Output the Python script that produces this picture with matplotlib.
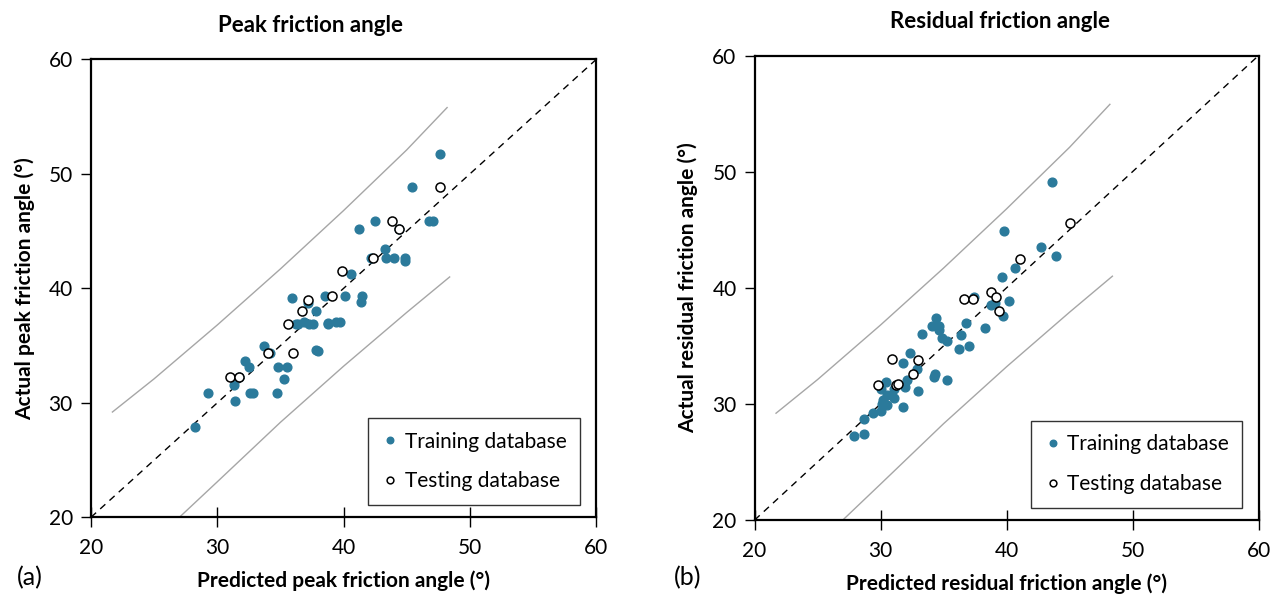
import matplotlib
matplotlib.use("Agg")
import matplotlib.pyplot as plt

plt.rcParams['font.family'] = ['Lato', 'DejaVu Sans']

# ---- data ----
# peak friction angle: predicted (x) vs actual (y)
peak_train_x = [35.9, 38.5, 37.8, 36.2, 36.4, 36.9, 37.3, 37.6, 38.8, 33.7, 34.2, 32.2,
                32.5, 37.8, 38.0, 34.8, 35.5, 35.3, 31.7, 31.3, 29.3, 32.6, 32.8, 34.7,
                31.4, 28.2, 37.2, 47.6, 45.4, 42.5, 41.2, 46.8, 47.1, 44.4, 43.3, 42.2,
                43.4, 44.0, 44.9, 44.9, 40.6, 40.1, 41.5, 41.4, 38.8, 39.4, 39.7]
peak_train_y = [39.2, 39.3, 38.0, 36.9, 36.9, 37.1, 36.9, 36.9, 37.0, 35.0, 34.4, 33.7,
                33.1, 34.6, 34.5, 33.1, 33.1, 32.1, 32.3, 31.6, 30.9, 30.9, 30.9, 30.9,
                30.2, 27.9, 38.7, 51.7, 48.9, 45.9, 45.2, 45.9, 45.9, 45.2, 43.4, 42.7,
                42.7, 42.7, 42.7, 42.4, 41.3, 39.3, 39.3, 38.8, 36.9, 37.1, 37.1]
peak_test_x = [37.2, 36.7, 35.6, 34.0, 36.0, 31.0, 31.7, 47.6, 43.8, 44.4, 42.3, 39.9, 39.1]
peak_test_y = [39.0, 38.0, 36.9, 34.4, 34.4, 32.3, 32.3, 48.9, 45.9, 45.2, 42.7, 41.5, 39.3]

# residual friction angle: predicted (x) vs actual (y)
res_train_x = [37.4, 34.4, 34.1, 34.6, 34.6, 33.3, 36.8, 36.4, 34.9, 35.3, 37.0, 36.2,
               32.3, 31.8, 32.9, 34.3, 34.2, 35.3, 30.4, 32.1, 31.9, 30.0, 31.1, 30.5,
               30.2, 30.1, 31.1, 30.5, 33.0, 31.8, 30.0, 29.4, 28.7, 27.9, 28.7, 43.6,
               39.8, 42.7, 43.9, 40.7, 39.6, 40.2, 38.8, 39.1, 39.7, 38.3]
res_train_y = [39.2, 37.4, 36.7, 36.7, 36.4, 36.0, 37.0, 35.9, 35.7, 35.4, 35.0, 34.7,
               34.4, 33.5, 33.0, 32.6, 32.3, 32.1, 31.9, 32.1, 31.5, 31.3, 31.3, 30.8,
               30.3, 30.0, 30.5, 29.9, 31.1, 29.7, 29.4, 29.2, 28.7, 27.2, 27.4, 49.1,
               44.9, 43.5, 42.7, 41.7, 40.9, 38.9, 38.5, 38.7, 37.6, 36.5]
res_test_x = [36.6, 37.3, 30.9, 33.0, 32.6, 29.8, 31.2, 31.4, 45.0, 41.1, 38.8, 39.2, 39.4]
res_test_y = [39.0, 39.0, 33.9, 33.8, 32.6, 31.6, 31.6, 31.7, 45.6, 42.5, 39.6, 39.2, 38.0]

# grey bound curves (same on both panels)
upper_x = [21.7, 25.0, 30.0, 35.0, 40.0, 45.0, 48.2]
upper_y = [29.2, 32.1, 36.8, 41.7, 46.8, 52.1, 55.8]
lower_x = [27.0, 30.0, 35.0, 40.0, 45.0, 48.4]
lower_y = [20.0, 23.1, 28.3, 33.2, 37.9, 41.0]

ticks = [20, 30, 40, 50, 60]
train_color = '#2b7a9b'

fig = plt.figure(figsize=(12.79, 6.04), dpi=100)
ax1 = fig.add_axes([0.0711, 0.1435, 0.395, 0.758])
ax2 = fig.add_axes([0.590, 0.139, 0.394, 0.769])

panels = [
    (ax1, peak_train_x, peak_train_y, peak_test_x, peak_test_y,
     'Predicted peak friction angle (°)', 'Actual peak friction angle (°)'),
    (ax2, res_train_x, res_train_y, res_test_x, res_test_y,
     'Predicted residual friction angle (°)', 'Actual residual friction angle (°)'),
]

for ax, tx, ty, sx, sy, xl, yl in panels:
    ax.plot(upper_x, upper_y, color='#a6a6a6', lw=1.0, zorder=1)
    ax.plot(lower_x, lower_y, color='#a6a6a6', lw=1.0, zorder=1)
    ax.plot([20, 60], [20, 60], color='black', lw=1.0, ls=(0, (5, 4)), zorder=2)
    ax.plot(tx, ty, 'o', color=train_color, ms=6.3, mec=train_color,
            label='Training database', zorder=3)
    ax.plot(sx, sy, 'o', mfc='white', mec='black', mew=1.1, ms=6.5,
            label='Testing database', zorder=4)
    ax.set_xlim(20, 60)
    ax.set_ylim(20, 60)
    ax.set_xticks(ticks)
    ax.set_yticks(ticks)
    ax.tick_params(axis='x', direction='inout', length=14, width=1, labelsize=15, pad=8)
    ax.tick_params(axis='y', direction='out', length=7, width=1, labelsize=15, pad=6)
    for sp in ax.spines.values():
        sp.set_linewidth(1.6)
    ax.set_xlabel(xl, fontsize=15, fontweight='bold', labelpad=9)
    ax.set_ylabel(yl, fontsize=15, fontweight='bold', labelpad=10)
    leg = ax.legend(loc='lower right', fontsize=15, frameon=True, fancybox=False,
                    edgecolor='black', markerscale=0.75, handletextpad=0.3,
                    handlelength=0.8, borderpad=0.65, labelspacing=0.95,
                    borderaxespad=0, bbox_to_anchor=(0.968, 0.027))
    leg.get_frame().set_linewidth(1.0)

fig.text(311 / 1279, 1 - 25 / 604, 'Peak friction angle', ha='center', va='center',
         fontsize=16, fontweight='bold')
fig.text(1000 / 1279, 1 - 22 / 604, 'Residual friction angle', ha='center', va='center',
         fontsize=16, fontweight='bold')
fig.text(30 / 1279, 1 - 578 / 604, '(a)', ha='center', va='center', fontsize=18)
fig.text(688 / 1279, 1 - 578 / 604, '(b)', ha='center', va='center', fontsize=18)

fig.savefig('out.png', dpi=100)
